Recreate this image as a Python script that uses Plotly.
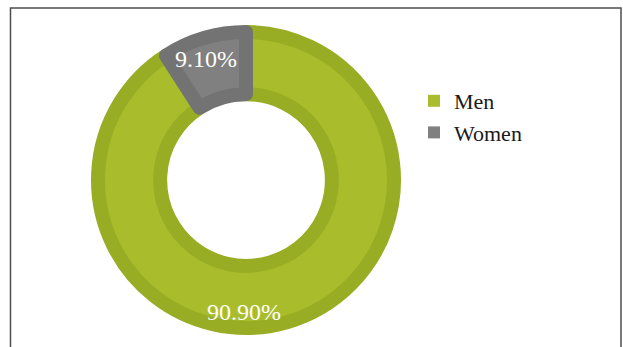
import plotly.graph_objects as go

# Share of respondents by gender
labels = ["Men", "Women"]
values = [90.90, 9.10]
fill_colors = ["#A9BC2C", "#808080"]
edge_colors = ["#98AD23", "#737373"]

W, H = 623, 347
cx, cy = 246, 180          # donut centre (px)
r = 148                    # pie radius (px)
domain = dict(
    x=[(cx - r) / W, (cx + r) / W],
    y=[1 - (cy + r) / H, 1 - (cy - r) / H],
)

common = dict(
    labels=labels,
    values=values,
    sort=False,
    direction="clockwise",
    rotation=0,
    hole=0.58,
    textinfo="none",
    hoverinfo="label+percent",
    domain=domain,
)

fig = go.Figure()
# plain-filled layer: supplies the legend swatches
fig.add_trace(go.Pie(**common, marker=dict(colors=fill_colors), showlegend=True))
# outlined layer drawn on top
fig.add_trace(
    go.Pie(
        **common,
        marker=dict(colors=fill_colors, line=dict(color=edge_colors, width=14)),
        showlegend=False,
    )
)

# Percentage labels
label_pos = {"Men": (244, 312), "Women": (206, 59)}
annotations = []
for lab, val in zip(labels, values):
    px, py = label_pos[lab]
    annotations.append(
        dict(
            x=px / W, y=1 - py / H, xref="paper", yref="paper",
            text=f"{val:.2f}%", showarrow=False,
            font=dict(family="Liberation Serif", size=24, color="white"),
            xanchor="center", yanchor="middle",
        )
    )

fig.update_layout(
    width=W, height=H,
    margin=dict(l=0, r=0, t=0, b=0),
    paper_bgcolor="white",
    plot_bgcolor="white",
    annotations=annotations,
    legend=dict(
        x=414 / W, y=1 - 80 / H, xanchor="left", yanchor="top",
        font=dict(family="Liberation Serif", size=22, color="#1a1a1a"),
        bgcolor="rgba(0,0,0,0)",
    ),
    shapes=[
        dict(
            type="rect", xref="paper", yref="paper",
            x0=10.5 / W, x1=621 / W, y0=-0.2, y1=1 - 8 / H,
            line=dict(color="#4d4d4d", width=1.5),
        )
    ],
)

fig.write_html("out.html")
